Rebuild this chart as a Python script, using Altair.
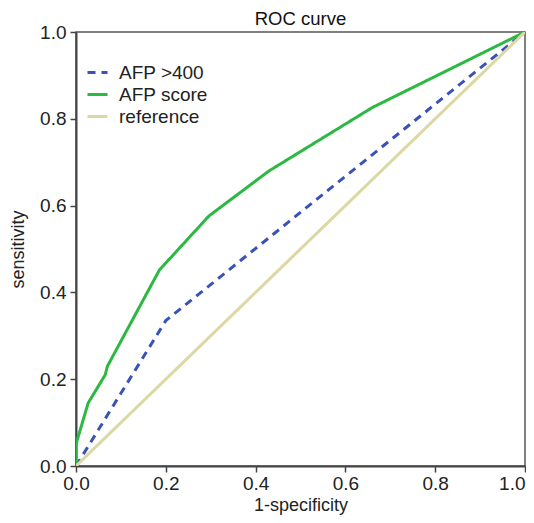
import altair as alt
import pandas as pd

# Data
series_names = ["AFP >400", "AFP score", "reference"]

afp400_x = [0.0, 0.2, 1.0]
afp400_y = [0.0, 0.335, 1.0]

score_x = [0.0, 0.0, 0.027, 0.065, 0.07, 0.186, 0.296, 0.43, 0.66, 1.0]
score_y = [0.0, 0.05, 0.145, 0.21, 0.23, 0.452, 0.576, 0.68, 0.826, 1.0]

ref_x = [0.0, 1.0]
ref_y = [0.0, 1.0]

colors = ["#3a52b8", "#2cb843", "#dcd8a4"]
dashes = [[8, 6], [1, 0], [1, 0]]
widths = [3, 3, 1.0]

rows = []
for name, xs, ys in [(series_names[0], afp400_x, afp400_y),
                     (series_names[1], score_x, score_y),
                     (series_names[2], ref_x, ref_y)]:
    for i, (x, y) in enumerate(zip(xs, ys)):
        rows.append({"series": name, "fpr": x, "tpr": y, "idx": i})
df = pd.DataFrame(rows)

ticks = [0.0, 0.2, 0.4, 0.6, 0.8, 1.0]
font = "Liberation Sans"

legend_common = dict(
    orient="none", legendX=10, legendY=29, title=None,
    labelFontSize=19, labelFont=font, labelColor="#222222",
    symbolType="stroke", symbolSize=400, symbolStrokeWidth=3,
    rowPadding=0, labelOffset=10, padding=0,
)

chart = alt.Chart(df).mark_line(clip=True).encode(
    x=alt.X("fpr:Q", title="1-specificity",
            scale=alt.Scale(domain=[0, 1], nice=False, zero=False),
            axis=alt.Axis(values=ticks, format=".1f", grid=False, labelFlush=False,
                          labelAlign={"condition": {"test": "datum.value >= 1", "value": "right"},
                                      "value": "center"},
                          tickSize=6, labelPadding=2, titlePadding=3, titleFontSize=18)),
    y=alt.Y("tpr:Q", title="sensitivity",
            scale=alt.Scale(domain=[0, 1], nice=False, zero=False),
            axis=alt.Axis(values=ticks, format=".1f", grid=False, labelFlush=False,
                          tickSize=6, labelPadding=4, titlePadding=12, titleFontSize=18)),
    color=alt.Color("series:N",
                    scale=alt.Scale(domain=series_names, range=colors),
                    legend=alt.Legend(**legend_common)),
    strokeDash=alt.StrokeDash("series:N",
                              scale=alt.Scale(domain=series_names, range=dashes),
                              legend=alt.Legend(**legend_common)),
    strokeWidth=alt.StrokeWidth("series:N",
                                scale=alt.Scale(domain=series_names, range=widths),
                                legend=alt.Legend(**legend_common)),
    order="idx:Q",
).properties(
    width=449, height=434,
    title=alt.TitleParams("ROC curve", fontSize=18.5, font=font, fontWeight="normal",
                          color="#111111", anchor="middle", frame="group", offset=6, dy=11),
    autosize=alt.AutoSizeParams(type="none"),
    padding={"left": 68, "top": 24, "right": 1, "bottom": 49},
).configure_view(
    stroke="#555555", strokeWidth=1.5
).configure_axis(
    domainColor="#444444", domainWidth=2, tickColor="#444444", tickWidth=1.5,
    labelFont=font, labelFontSize=19, labelColor="#222222",
    titleFont=font, titleFontSize=19, titleFontWeight="normal", titleColor="#222222",
)

chart.save("out.html", embed_options={"renderer": "svg", "actions": False})
